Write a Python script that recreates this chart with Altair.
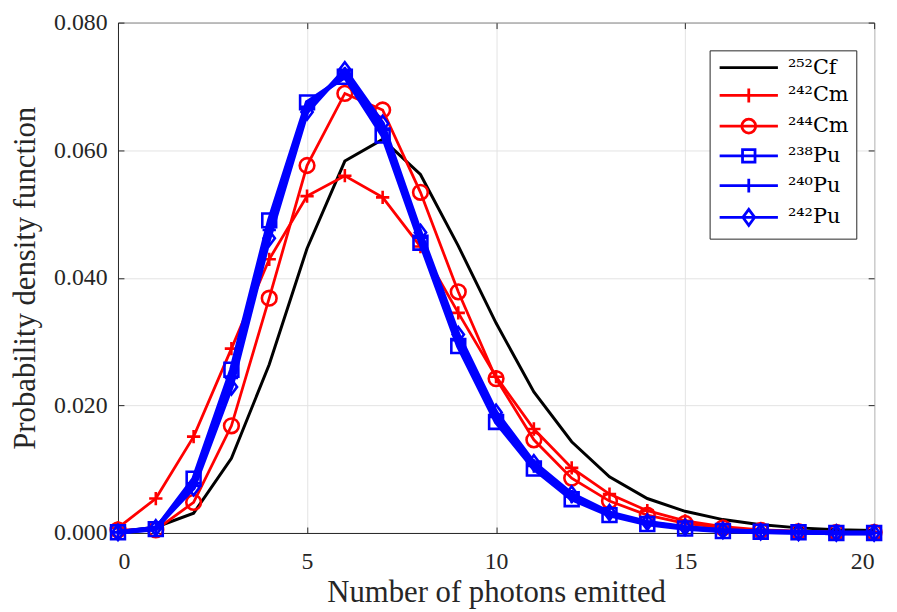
import altair as alt
import pandas as pd

photons = list(range(21))

cf252 = [0.0002, 0.0009, 0.0031, 0.0117, 0.0264, 0.0446, 0.0583, 0.0617, 0.0562, 0.0450, 0.0329,
         0.0221, 0.0143, 0.0088, 0.0054, 0.0034, 0.0021, 0.0013, 0.0008, 0.0005, 0.0004]
cm242 = [0.0008, 0.0054, 0.0151, 0.0289, 0.0429, 0.0528, 0.0560, 0.0526, 0.0449, 0.0345, 0.0245,
         0.0163, 0.0102, 0.0061, 0.0035, 0.0019, 0.0010, 0.0005, 0.0003, 0.0001, 0.0001]
cm244 = [0.0005, 0.0005, 0.0048, 0.0168, 0.0368, 0.0576, 0.0689, 0.0663, 0.0534, 0.0378, 0.0242,
         0.0146, 0.0086, 0.0050, 0.0028, 0.0015, 0.0008, 0.0004, 0.0002, 0.0001, 0.0001]
pu238 = [0.0001, 0.0006, 0.0085, 0.0256, 0.0490, 0.0675, 0.0715, 0.0623, 0.0455, 0.0293, 0.0174,
         0.0101, 0.0053, 0.0028, 0.0014, 0.0007, 0.0003, 0.0002, 0.0001, 0.0000, 0.0000]
pu240 = [0.0001, 0.0007, 0.0078, 0.0243, 0.0475, 0.0668, 0.0720, 0.0632, 0.0463, 0.0302, 0.0182,
         0.0105, 0.0057, 0.0030, 0.0016, 0.0008, 0.0004, 0.0002, 0.0001, 0.0000, 0.0000]
pu242 = [0.0001, 0.0008, 0.0071, 0.0229, 0.0462, 0.0660, 0.0726, 0.0642, 0.0471, 0.0311, 0.0189,
         0.0110, 0.0061, 0.0032, 0.0017, 0.0009, 0.0004, 0.0002, 0.0001, 0.0000, 0.0000]

series_names = ["²⁵²Cf", "²⁴²Cm", "²⁴⁴Cm", "²³⁸Pu", "²⁴⁰Pu", "²⁴²Pu"]
series_values = [cf252, cm242, cm244, pu238, pu240, pu242]
series_colors = ["#000000", "#ff0000", "#ff0000", "#0000ff", "#0000ff", "#0000ff"]
line_widths = [3.0, 2.8, 2.8, 4.5, 4.5, 4.5]

PLUS = "M-1,0L1,0M0,-1L0,1"
DIAMOND = "M0,-1.15L0.85,0L0,1.15L-0.85,0Z"
marker_shapes = [None, PLUS, "circle", "square", PLUS, DIAMOND]
marker_sizes = [0, 180, 220, 196, 180, 180]

legend_paths = [
    "M-4.2,0L4.2,0",
    "M-4.2,0L4.2,0M0,-1L0,1",
    "M-4.2,0L4.2,0M1,0A1,1 0 1,1 -1,0A1,1 0 1,1 1,0",
    "M-4.2,0L4.2,0M-0.9,-0.9L0.9,-0.9L0.9,0.9L-0.9,0.9Z",
    "M-4.2,0L4.2,0M0,-1L0,1",
    "M-4.2,0L4.2,0M0,-1.15L0.85,0L0,1.15L-0.85,0Z",
]

x_ticks = [0, 5, 10, 15, 20]
y_ticks = [0.0, 0.02, 0.04, 0.06, 0.08]

rows = []
for name, vals in zip(series_names, series_values):
    for xv, yv in zip(photons, vals):
        rows.append({"x": xv, "y": yv, "series": name})
df = pd.DataFrame(rows)

FONT = "Liberation Serif"
LEG_FONT = "DejaVu Serif"
INK = "#262626"

x_scale = alt.Scale(domain=[0, 20], nice=False)
y_scale = alt.Scale(domain=[0, 0.08], nice=False)

x_main = alt.X("x:Q", scale=x_scale, axis=alt.Axis(
    values=x_ticks, title="Number of photons emitted", ticks=False, tickSize=0,
    labelPadding=17, titlePadding=4, grid=True, format="d"))
y_main = alt.Y("y:Q", scale=y_scale, axis=alt.Axis(
    values=y_ticks, title="Probability density function", ticks=False, tickSize=0,
    labelPadding=11, titlePadding=12, grid=True, format=".3f"))

base = alt.Chart(df)
layers = []
for name, c, w, shp, sz in zip(series_names, series_colors, line_widths, marker_shapes, marker_sizes):
    sub = base.transform_filter(alt.datum.series == name)
    layers.append(sub.mark_line(color=c, strokeWidth=w, clip=False).encode(x=x_main, y=y_main))
    if shp is not None:
        layers.append(sub.mark_point(shape=shp, size=sz, filled=False, color=c,
                                     strokeWidth=2.6, opacity=1, clip=False)
                      .encode(x=x_main, y=y_main))

leg = alt.Legend(orient="none", legendX=597, legendY=28, title=None, padding=7,
                 fillColor="white", strokeColor=INK, cornerRadius=0,
                 symbolSize=196, symbolStrokeWidth=2.8, symbolOffset=22, symbolOpacity=1,
                 labelOffset=29, labelFont=LEG_FONT, labelFontSize=21, labelColor="#000000",
                 rowPadding=4, labelLimit=300)

legend_layer = base.transform_filter("false").mark_point(filled=False).encode(
    x=x_main, y=y_main,
    stroke=alt.Stroke("series:N", scale=alt.Scale(domain=series_names, range=series_colors), legend=leg),
    shape=alt.Shape("series:N", scale=alt.Scale(domain=series_names, range=legend_paths), legend=leg),
)
layers.append(legend_layer)

main = alt.layer(*layers)

tick_src = base.transform_filter(alt.datum.series == series_names[0]).mark_point(opacity=0)


def tick_axis(orient, vals):
    return alt.Axis(orient=orient, offset=-6, labels=False, domain=False, grid=False,
                    ticks=True, tickSize=6, tickColor=INK, tickWidth=1, values=vals, title=None)


ticks_bl = tick_src.encode(x=alt.X("x:Q", scale=x_scale, axis=tick_axis("bottom", x_ticks)),
                           y=alt.Y("y:Q", scale=y_scale, axis=tick_axis("left", y_ticks)))
ticks_tr = tick_src.encode(x=alt.X("x:Q", scale=x_scale, axis=tick_axis("top", x_ticks)),
                           y=alt.Y("y:Q", scale=y_scale, axis=tick_axis("right", y_ticks)))

chart = alt.layer(main, ticks_bl, ticks_tr).resolve_axis(
    x="independent", y="independent"
).properties(
    width=763, height=515, autosize="none",
    padding={"left": 111, "top": 12, "right": 15, "bottom": 77},
).configure(font=FONT).configure_view(stroke=INK, strokeWidth=1).configure_axis(
    labelFont=FONT, titleFont=FONT, labelFontSize=24, titleFontSize=31,
    titleFontWeight="normal", labelColor=INK, titleColor=INK,
    domainColor=INK, domainWidth=1, gridColor="#e3e3e3", gridWidth=1,
).configure_legend(
    labelFont=LEG_FONT, labelFontSize=21, labelColor="#000000",
)

chart.save("out.html", embed_options={"renderer": "svg", "actions": False})
